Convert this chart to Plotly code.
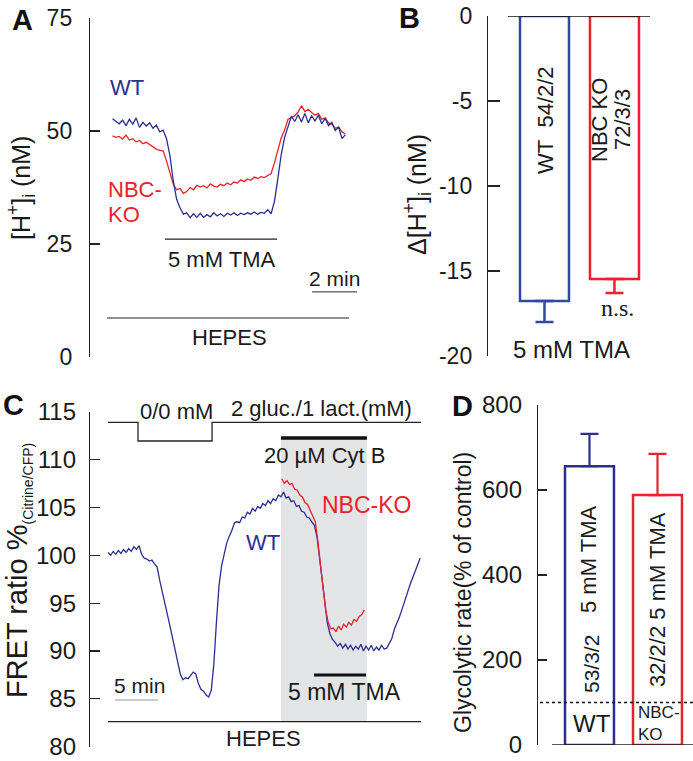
import plotly.graph_objects as go

W, H = 693, 761
BLUE = "#2b2f8f"
BLUE_BAR = "#2f48a6"
RED = "#e8232b"
INK = "#1a1a1a"
FONT = "Liberation Sans, Arial, sans-serif"

# ---------------- Panel A data: [H+]i (nM) vs time (min) ----------------
a_t0, a_dt = 1.0, 0.15
a_wt = [52.7, 52.2, 51.6, 52.4, 51.2, 52.6, 51.5, 52.9, 50.8, 51.9, 51.1, 51.8, 50.6, 51.3,
        49.8, 50.2, 48.3, 44.6, 39.0, 34.9, 33.0, 31.6, 31.9, 30.8, 31.7, 30.9, 31.8, 30.9,
        31.5, 31.0, 31.9, 31.2, 31.7, 31.1, 31.8, 31.4, 31.9, 31.3, 31.8, 31.5, 31.9, 31.6,
        32.1, 31.6, 32.0, 31.8, 32.6, 31.7, 34.5, 39.5, 44.8, 48.6, 51.2, 53.3, 52.1, 53.6,
        52.0, 53.9, 51.8, 53.4, 52.2, 53.5, 51.6, 52.8, 51.2, 51.9, 50.1, 50.9, 48.3, 49.2]
a_ko = [48.9, 48.6, 48.8, 48.2, 49.1, 48.0, 48.3, 47.6, 47.9, 47.2, 47.5, 47.0, 46.4, 46.0,
        45.7, 45.6, 43.4, 40.5, 38.2, 37.0, 37.3, 36.2, 36.6, 37.5, 37.0, 38.0, 37.6, 37.9,
        37.4, 38.3, 37.8, 37.6, 38.2, 37.9, 38.5, 38.1, 38.7, 38.5, 39.2, 38.8, 39.4, 39.1,
        39.8, 39.5, 39.9, 39.7, 40.2, 40.6, 43.0, 45.6, 48.5, 50.2, 52.6, 52.9, 53.4, 54.2,
        55.6, 54.3, 54.8, 54.1, 53.5, 53.9, 52.6, 52.9, 51.8, 51.5, 50.6, 50.9, 49.8, 49.4]
a_ticks = [0, 25, 50, 75]

# ---------------- Panel B data: delta [H+]i ----------------
b_groups = [0, 1]
b_values = [-16.76, -15.47]
b_err = [1.24, 0.83]
b_colors = [BLUE_BAR, RED]
b_tickvals = [-20, -15, -10, -5, 0]
b_ticktext = ["-20", "-15", "-10", "-5", "0"]

# ---------------- Panel C data: FRET ratio vs time (min) ----------------
c_wt_t0, c_dt = 2.1, 0.3
c_wt = [100.3, 100.0, 100.4, 100.1, 100.5, 100.2, 100.6, 100.3, 100.7, 100.4, 100.9, 100.6,
        101.0, 100.1, 99.7, 99.6, 99.4, 99.5, 99.1, 98.8, 97.4, 96.1, 95.0, 93.8, 92.6, 91.4,
        90.1, 88.8, 87.6, 87.0, 87.2, 87.1, 87.5, 87.8, 87.6, 86.6, 86.0, 85.8, 85.4, 85.2,
        85.9, 88.6, 93.0, 96.8, 98.9, 100.3, 101.3, 102.0, 102.6, 103.4, 103.5, 103.4, 104.0,
        103.9, 104.5, 104.3, 104.9, 104.6, 105.1, 104.9, 105.4, 105.2, 105.7, 105.4, 105.9,
        105.7, 106.3, 106.1, 106.6, 106.0, 106.1, 105.6, 105.7, 105.1, 105.2, 104.6, 104.5,
        104.0, 103.9, 103.5, 103.1, 101.9, 99.6, 97.0, 94.6, 92.9, 91.8, 91.2, 90.9, 90.5,
        90.8, 90.3, 90.7, 90.2, 90.6, 90.1, 90.5, 90.2, 90.7, 90.0, 90.5, 90.1, 90.6, 90.0,
        90.4, 90.1, 90.6, 90.2, 90.3, 90.8, 91.3, 92.3, 92.9, 93.6, 94.4, 95.3, 96.1, 96.9,
        97.6, 98.4, 99.0, 99.7]
c_ko_t0 = 22.3
c_ko = [108.0, 107.5, 107.8, 107.4, 107.5, 106.9, 106.8, 106.3, 106.1, 105.5, 105.3, 104.7,
        104.2, 103.5, 101.4, 98.8, 96.3, 94.3, 93.0, 92.3, 92.4, 92.0, 92.6, 92.2, 92.8, 92.5,
        93.0, 92.7, 93.3, 93.1, 93.6, 93.8, 94.3]
c_ticks = [80, 85, 90, 95, 100, 105, 110, 115]

# ---------------- Panel D data: glycolytic rate (% of control) ----------------
d_groups = [0, 1]
d_values = [656, 588]
d_err = [76, 97]
d_colors = [BLUE, RED]
d_ticks = [0, 200, 400, 600, 800]
d_control = 100


def X(p):
    return p / W


def Y(p):
    return 1 - p / H


fig = go.Figure()

# A traces
fig.add_trace(go.Scatter(x=[a_t0 + a_dt * i for i in range(len(a_ko))], y=a_ko, mode="lines",
                         line=dict(color=RED, width=1.3), xaxis="x", yaxis="y", showlegend=False))
fig.add_trace(go.Scatter(x=[a_t0 + a_dt * i for i in range(len(a_wt))], y=a_wt, mode="lines",
                         line=dict(color=BLUE, width=1.3), xaxis="x", yaxis="y", showlegend=False))

# B bars (one trace per group so that error bars get the bar colour)
for g, v, e, col in zip(b_groups, b_values, b_err, b_colors):
    fig.add_trace(go.Bar(x=[g], y=[v], width=0.7,
                         marker=dict(color="white", line=dict(color=col, width=2.5)),
                         error_y=dict(type="data", symmetric=False, array=[0], arrayminus=[e],
                                      color=col, thickness=2.5, width=9),
                         xaxis="x2", yaxis="y2", showlegend=False))

# C traces
fig.add_trace(go.Scatter(x=[c_wt_t0 + c_dt * i for i in range(len(c_wt))], y=c_wt, mode="lines",
                         line=dict(color=BLUE, width=1.3), xaxis="x3", yaxis="y3", showlegend=False))
fig.add_trace(go.Scatter(x=[c_ko_t0 + c_dt * i for i in range(len(c_ko))], y=c_ko, mode="lines",
                         line=dict(color=RED, width=1.3), xaxis="x3", yaxis="y3", showlegend=False))

# D bars
for g, v, e, col in zip(d_groups, d_values, d_err, d_colors):
    fig.add_trace(go.Bar(x=[g], y=[v], width=0.72,
                         marker=dict(color="white", line=dict(color=col, width=2.5)),
                         error_y=dict(type="data", symmetric=False, array=[e], arrayminus=[0],
                                      color=col, thickness=2.2, width=9),
                         xaxis="x4", yaxis="y4", showlegend=False))

axis_common = dict(showgrid=False, zeroline=False, showline=True, linecolor="#222", linewidth=1.2,
                   ticks="inside", tickcolor="#222", tickwidth=1.2, automargin=False)

fig.update_layout(
    width=W, height=H, margin=dict(l=0, r=0, t=0, b=0, pad=0, autoexpand=False),
    paper_bgcolor="white", plot_bgcolor="rgba(0,0,0,0)", barmode="overlay",
    font=dict(family=FONT, color=INK), bargap=0,
    xaxis=dict(domain=[X(90), X(360)], range=[0, 12], visible=False, anchor="y"),
    yaxis=dict(domain=[Y(357), Y(18)], range=[0, 75], anchor="x", tickvals=a_ticks, ticklen=10,
               ticklabelstandoff=12, tickfont=dict(family=FONT, size=23, color=INK), **axis_common),
    xaxis2=dict(domain=[X(488), X(655)], range=[-0.807, 1.579], visible=False, anchor="y2"),
    yaxis2=dict(domain=[Y(356), Y(16)], range=[-20, 0], anchor="x2", tickvals=b_tickvals,
                ticktext=b_ticktext, ticklen=12, ticklabelstandoff=10,
                tickfont=dict(family=FONT, size=23, color=INK), **axis_common),
    xaxis3=dict(domain=[X(90), X(430)], range=[0, 340 / 8.6], visible=False, anchor="y3"),
    yaxis3=dict(domain=[Y(746.7), Y(411.7)], range=[80, 115], anchor="x3", tickvals=c_ticks,
                ticklen=10, ticklabelstandoff=8, tickfont=dict(family=FONT, size=24, color=INK),
                **axis_common),
    xaxis4=dict(domain=[X(538), X(693)], range=[-0.757, 1.522], visible=False, anchor="y4"),
    yaxis4=dict(domain=[Y(745), Y(405)], range=[0, 800], anchor="x4", tickvals=d_ticks,
                ticklen=9, ticklabelstandoff=10, tickfont=dict(family=FONT, size=24, color=INK),
                **axis_common),
)

shapes = []


def hline(x0, x1, y, xref, yref, color="#222", width=1.2, dash="solid"):
    shapes.append(dict(type="line", x0=x0, x1=x1, y0=y, y1=y, xref=xref, yref=yref,
                       line=dict(color=color, width=width, dash=dash)))


# Panel A protocol bars
hline(0.76, 11.51, 8.63, "x", "y")
hline(3.33, 8.31, 26.1, "x", "y")
hline(9.87, 11.87, 14.4, "x", "y", color="#555")
# Panel B zero line
hline(X(508), X(650), 0, "paper", "y2", color="#111", width=1.5)
# Panel C
shapes.append(dict(type="rect", x0=22.2, x1=32.2, y0=82.61, y1=112.25, xref="x3", yref="y3",
                   fillcolor="#e3e4e6", line=dict(width=0), layer="below"))
shapes.append(dict(type="path", xref="x3", yref="y3",
                   path="M 2.09,113.89 L 5.58,113.89 L 5.58,111.94 L 14.19,111.94 L 14.19,113.89 L 38.49,113.89",
                   line=dict(color="#222", width=1.3)))
hline(22.2, 32.2, 112.25, "x3", "y3", color="#111", width=3.5)
hline(26.05, 32.1, 87.49, "x3", "y3", color="#111", width=3)
hline(2.91, 7.91, 84.88, "x3", "y3", color="#999", width=1)
hline(2.09, 38.49, 82.61, "x3", "y3", width=1.3)
# Panel D
hline(X(552), X(693), 0, "paper", "y4", width=1.3)
hline(X(540), X(693), d_control, "paper", "y4", color="#111", width=1.3, dash="dot")

anns = []


def ann(text, x, y, size=22, color=INK, angle=0, xanchor="center", family=FONT):
    anns.append(dict(text=text, x=X(x), y=Y(y), xref="paper", yref="paper", showarrow=False,
                     xanchor=xanchor, yanchor="middle", textangle=angle, borderpad=0,
                     font=dict(family=family, size=size, color=color)))


for lab, x, y in [("A", 22, 20), ("B", 409, 18), ("C", 13, 405), ("D", 462, 406)]:
    ann("<b>%s</b>" % lab, x, y, size=29, color="#111")

# A
ann("WT", 127, 88, color=BLUE)
ann("NBC-", 107, 190, color=RED, xanchor="left")
ann("KO", 107, 214, color=RED, xanchor="left")
ann("5 mM TMA", 222, 259)
ann("2 min", 334, 278, size=21)
ann("HEPES", 229, 337)
ann("[H<sup>+</sup>]<sub>i</sub> (nM)", 21, 188, size=25, angle=-90)
# B
ann("WT\u00a0 54/2/2", 546, 120, angle=-90)
ann("NBC KO", 600, 120, angle=-90)
ann("72/3/3", 623, 120, angle=-90)
ann("n.s.", 617, 308, size=24, family="Liberation Serif, Times New Roman, serif")
ann("5 mM TMA", 571, 349, size=24)
ann("Δ[H<sup>+</sup>]<sub>i</sub> (nM)", 417, 195, size=25, angle=-90)
# C
ann("0/0 mM", 176, 411)
ann("2 gluc./1 lact.(mM)", 321, 408)
ann("20 µM Cyt B", 324, 456)
ann("NBC-KO", 366, 505, size=23, color=RED)
ann("WT", 263, 542, color=BLUE)
ann("5 mM TMA", 344, 692, size=23)
ann("5 min", 139, 685, size=21)
ann("HEPES", 263, 738)
ann("FRET ratio %<sub><span style='font-size:14px'>(Citrine/CFP)</span></sub>", 18, 571,
    size=29, angle=-90)
# D
ann("5 mM TMA", 588, 560, angle=-90)
ann("53/3/2", 591, 664, size=21, angle=-90)
ann("32/2/2 5 mM TMA", 657, 600, angle=-90)
ann("WT", 592, 723, size=24)
ann("NBC-", 637, 712, size=17, xanchor="left")
ann("KO", 637, 734, size=17, xanchor="left")
ann("Glycolytic rate(% of control)", 463, 593, size=23, angle=-90)

fig.update_layout(shapes=shapes, annotations=anns)
fig.write_html("out.html", config={"displayModeBar": False, "staticPlot": True},
               post_script="document.body.style.margin='0';document.body.style.overflow='hidden';")
